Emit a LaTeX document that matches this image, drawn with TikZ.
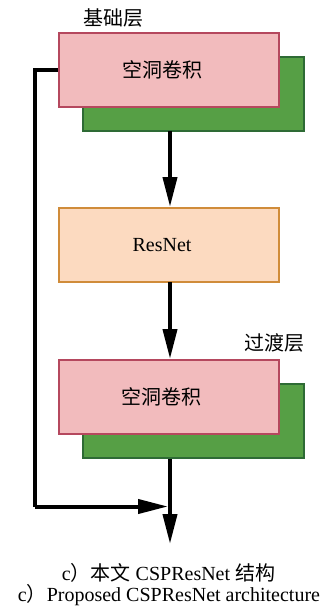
\documentclass[tikz,border=0pt]{standalone}
\usepackage{fontspec}
\setmainfont{Liberation Serif}
\newfontfamily\cjk{Noto Sans CJK SC}
\usetikzlibrary{arrows.meta}
\definecolor{pinkfill}{RGB}{242,187,189}
\definecolor{pinkdraw}{RGB}{181,72,94}
\definecolor{greenfill}{RGB}{86,159,69}
\definecolor{greendraw}{RGB}{46,107,53}
\definecolor{orangefill}{RGB}{252,218,192}
\definecolor{orangedraw}{RGB}{208,140,58}
\tikzset{
  convbox/.style={draw=pinkdraw, fill=pinkfill, line width=2pt, minimum width=220pt, minimum height=74pt, inner sep=0pt},
  shadowbox/.style={draw=greendraw, fill=greenfill, line width=2pt, minimum width=221pt, minimum height=74pt, inner sep=0pt},
  resbox/.style={draw=orangedraw, fill=orangefill, line width=2pt, minimum width=220pt, minimum height=74pt, inner sep=0pt},
  txt/.style={font=\fontsize{20}{24}\selectfont, inner sep=0pt},
  flow/.style={line width=4pt, -{Triangle[length=30pt,width=14pt]}},
}
\begin{document}
\begin{tikzpicture}[x=1pt,y=-1pt]
\useasboundingbox (0,0) rectangle (327,608);
% base layer: dilated convolution with its shadow block
\node[shadowbox] (g1) at (193.5,94) {};
\node[convbox] (c1) at (169,70) {};
\node[txt] (c1t) at (162,70) {\cjk 空洞卷积};
\node[txt] (l1) at (113,18) {\cjk 基础层};
% residual block
\node[resbox] (r) at (169,245) {};
\node[txt] (rt) at (162,245) {ResNet};
% transition layer
\node[shadowbox] (g2) at (193.5,421) {};
\node[convbox] (c2) at (169,397) {};
\node[txt] (c2t) at (161,397) {\cjk 空洞卷积};
\node[txt] (l2) at (274,343) {\cjk 过渡层};
% output and merge points
\coordinate (out) at (170,544);
\coordinate (merge) at (168,506.5);
\coordinate (turn) at (35,506.5);
% main path
\draw[flow] (170,131) -- (r.north -| 170,0);
\draw[flow] (170,282) -- (c2.north -| 170,0);
\draw[flow] (g2.south -| 170,0) -- (out);
% cross-stage shortcut
\draw[line width=4pt] (c1.west) -- (35,70) -- (turn);
\draw[flow] (turn) -- (merge);
% caption
\node[txt] (cap1) at (168.5,573) {c{\cjk ）本文} CSPResNet {\cjk 结构}};
\node[txt] (cap2) at (169,595) {c{\cjk ）}Proposed CSPResNet architecture};
\end{tikzpicture}
\end{document}
